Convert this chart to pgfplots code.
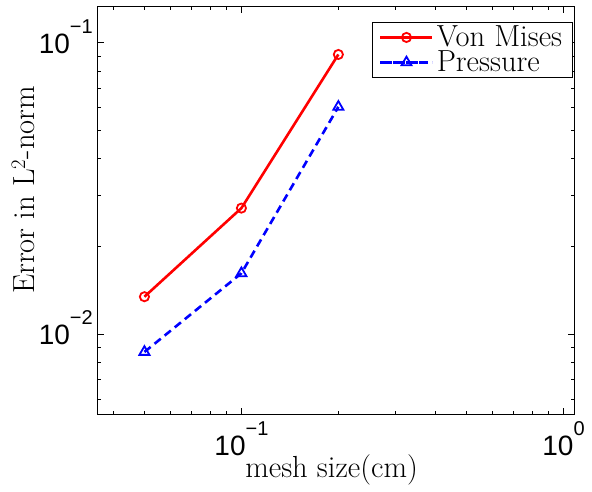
\documentclass[border=0pt]{standalone}
\usepackage{fontspec}
\usepackage{pgfplots}
\pgfplotsset{compat=1.18}
\newfontfamily\helv{Liberation Sans}
% power-of-ten tick label with a raised exponent
\newcommand\tenpow[1]{10\raisebox{20bp}{\fontsize{20bp}{20bp}\selectfont #1}}
\begin{document}
\begin{tikzpicture}
\path[use as bounding box] (-97.7bp,-78bp) rectangle (494.3bp,414bp);
\begin{axis}[
  at={(0,0)}, anchor=south west,
  scale only axis, width=476.6bp, height=407.3bp,
  xmode=log, ymode=log,
  xmin=0.0358, xmax=1.08, ymin=0.00533, ymax=0.133,
  xtick={0.1,1}, xticklabels={\tenpow{−1},\tenpow{0}},
  ytick={0.01,0.1}, yticklabels={\tenpow{−2},\tenpow{−1}},
  minor xtick={0.04,0.05,0.06,0.07,0.08,0.09,0.2,0.3,0.4,0.5,0.6,0.7,0.8,0.9},
  minor ytick={0.006,0.007,0.008,0.009,0.02,0.03,0.04,0.05,0.06,0.07,0.08,0.09},
  tick align=inside, major tick length=6bp, minor tick length=3.5bp,
  tick style={black, line width=0.8bp},
  axis line style={line width=1bp},
  tick label style={font=\helv\fontsize{28bp}{30bp}\selectfont, inner sep=0pt},
  xticklabel style={anchor=base, yshift=-41bp},
  yticklabel style={anchor=base east, yshift=-10.5bp, xshift=-4.7bp},
  label style={font=\fontsize{30.5bp}{32bp}\selectfont},
  xlabel={mesh size(cm)},
  ylabel={Error in L$^2$-norm},
  xlabel style={at={(axis description cs:0.4908,-0.157)}, anchor=base},
  ylabel style={at={(axis description cs:-0.1567,0.55)}, anchor=center},
  legend style={at={(0.9966,0.9632)}, anchor=north east, draw=black,
    line width=1bp, font=\fontsize{30.5bp}{32bp}\selectfont,
    inner xsep=7bp, inner ysep=3bp, row sep=0.5pt,
    nodes={inner xsep=3bp, inner ysep=0pt, text height=21.5bp, text depth=3bp}},
  legend cell align=left,
  legend image code/.code={%
    \path (-4bp,0bp) -- (48bp,0bp);
    \draw[mark repeat=2,mark phase=2]
      plot coordinates {(0bp,0bp) (22bp,0bp) (44bp,0bp)};},
]
\addplot[red, line width=2.6bp, mark=o, mark size=4.6bp,
  mark options={line width=1.8bp, solid}]
  coordinates {(0.05,0.01346) (0.1,0.0271) (0.2,0.0912)};
\addlegendentry{Von Mises}
\addplot[blue, line width=2.6bp, dash pattern=on 8bp off 5bp, mark=triangle, mark size=5.8bp,
  mark options={line width=1.8bp, solid}]
  coordinates {(0.05,0.0087) (0.1,0.0162) (0.2,0.0603)};
\addlegendentry{Pressure}
\end{axis}
\end{tikzpicture}
\end{document}
